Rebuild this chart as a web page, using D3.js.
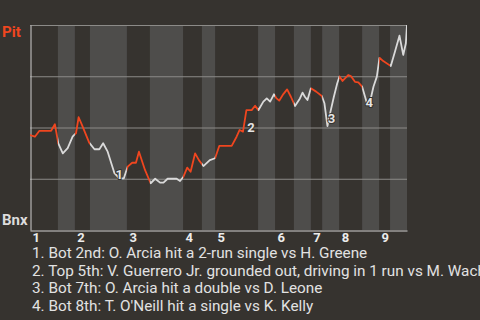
<html>
<head>
    <script type="text/javascript" src="https://cdnjs.cloudflare.com/ajax/libs/d3/7.8.5/d3.min.js"></script>
    <style>
        body { margin: 0; background: #36332f; }
        svg { display: block; font-family: Roboto, "Noto Sans", sans-serif; }
    </style>
</head>
<body>
<script type="text/javascript">

    // game progress (0-100) and Pittsburgh win probability after each play
    var progress = [0, 1.3, 2.5, 5.6, 6.6, 7.5, 8.7, 10.0, 11.3, 12.2, 12.9, 13.8, 15.7, 17.1, 18.4, 19.4, 20.6, 22.4, 23.7, 24.9,
        25.9, 27.1, 28.1, 28.9, 30.5, 32.0, 33.2, 34.5, 35.4, 36.5, 38.9, 39.8, 40.7, 41.7, 42.6, 43.8, 44.8, 46.0, 47.7, 49.1,
        50.2, 53.5, 54.8, 55.6, 56.5, 57.4, 58.8, 59.7, 60.6, 61.9, 62.8, 63.7, 64.7, 65.4, 66.1, 67.2, 68.2, 69.2, 70.3, 71.6,
        72.3, 72.9, 73.6, 74.5, 75.9, 77.4, 78.1, 78.9, 79.6, 80.6, 81.5, 82.1, 82.9, 84.4, 85.1, 86.2, 87.1, 88.1, 89.3, 90.0,
        91.1, 92.0, 92.7, 93.7, 95.7, 96.8, 98.0, 99.0, 99.7, 100];
    var winProb = [0.463, 0.455, 0.484, 0.484, 0.516, 0.423, 0.374, 0.399, 0.455, 0.472, 0.550, 0.512, 0.426, 0.394, 0.394, 0.423, 0.382, 0.277, 0.252, 0.252,
        0.309, 0.328, 0.328, 0.382, 0.293, 0.228, 0.250, 0.231, 0.231, 0.250, 0.250, 0.239, 0.260, 0.304, 0.284, 0.374, 0.341, 0.312, 0.341, 0.350,
        0.410, 0.410, 0.455, 0.488, 0.480, 0.585, 0.585, 0.606, 0.585, 0.626, 0.642, 0.626, 0.662, 0.642, 0.631, 0.663, 0.686, 0.650, 0.605, 0.642,
        0.670, 0.650, 0.634, 0.691, 0.675, 0.654, 0.618, 0.507, 0.569, 0.650, 0.716, 0.749, 0.727, 0.756, 0.751, 0.723, 0.720, 0.699, 0.623, 0.610,
        0.699, 0.748, 0.840, 0.824, 0.800, 0.870, 0.948, 0.854, 0.911, 1.0];

    // where each half inning starts (top 1st, bot 1st, top 2nd ...), last value = end of game
    var halfStarts = [0, 7.4, 11.9, 15.9, 25.7, 31.8, 40.6, 45.6, 49.1, 60.5, 65.0, 70.0, 74.5, 77.5, 82.0, 88.1, 92.6, 95.5, 100];
    var innings = ["1", "2", "3", "4", "5", "6", "7", "8", "9"];
    var teams = ["Pit", "Bnx"];
    var gridValues = [0.25, 0.5, 0.75, 1];

    // key plays: index into the play arrays + description
    var keyPlays = [18, 44, 67, 79];
    var keyTexts = [
        "1. Bot 2nd: O. Arcia hit a 2-run single vs H. Greene",
        "2. Top 5th: V. Guerrero Jr. grounded out, driving in 1 run vs M. Wacha",
        "3. Bot 7th: O. Arcia hit a double vs D. Leone",
        "4. Bot 8th: T. O'Neill hit a single vs K. Kelly"
    ];

    var data = progress.map(function (p, i) { return {x: p, wp: winProb[i]}; });

    var margin = {top: 25, right: 73, bottom: 90, left: 30},
        width = 480 - margin.left - margin.right,
        height = 320 - margin.top - margin.bottom;

    var svg = d3.select("body").append("svg").attr("width", 480).attr("height", 320);
    var g = svg.append("g").attr("transform", "translate(" + margin.left + "," + margin.top + ")");

    var x = d3.scaleLinear().domain([0, 100]).range([0, width]);
    var y = d3.scaleLinear().domain([0, 1]).range([height, 0]);

    var halves = d3.pairs(halfStarts).map(function (p, i) { return {x0: p[0], x1: p[1], top: i % 2 === 0}; });

    // bottom half innings get the lighter band
    g.selectAll("rect.band")
        .data(halves.filter(function (d) { return !d.top; }))
        .enter().append("rect")
        .attr("class", "band")
        .attr("x", function (d) { return x(d.x0); })
        .attr("width", function (d) { return x(d.x1) - x(d.x0); })
        .attr("y", 0)
        .attr("height", height)
        .attr("fill", "#4e4d4b");

    g.selectAll("line.grid")
        .data(gridValues)
        .enter().append("line")
        .attr("class", "grid")
        .attr("x1", 0).attr("x2", width)
        .attr("y1", function (d) { return y(d) + 0.5; })
        .attr("y2", function (d) { return y(d) + 0.5; })
        .attr("stroke", "#8c8b88")
        .attr("stroke-width", 1);

    // axes
    var yAxis = d3.axisLeft(y).tickValues([]).tickSizeOuter(0);
    g.append("g").attr("transform", "translate(0.5,0)").call(yAxis)
        .select(".domain").attr("stroke", "#cfcfcf");

    var xAxis = d3.axisBottom(x)
        .tickValues(halfStarts.filter(function (d, i) { return i % 2 === 0 && i < halfStarts.length - 1; }))
        .tickFormat(function (d, i) { return innings[i]; })
        .tickSize(0)
        .tickPadding(2);
    var xg = g.append("g").attr("transform", "translate(0," + (height + 0.5) + ")").call(xAxis);
    xg.select(".domain").attr("stroke", "#cfcfcf");
    xg.selectAll("text")
        .attr("text-anchor", "start")
        .attr("dx", 2)
        .attr("fill", "#ececec")
        .attr("font-size", 13)
        .attr("font-weight", "bold")
        .attr("font-family", "Roboto, sans-serif");

    // line colour follows the batting team: clip one copy per half type
    var defs = svg.append("defs");
    ["top", "bot"].forEach(function (k) {
        defs.append("clipPath").attr("id", "clip-" + k)
            .selectAll("rect")
            .data(halves.filter(function (d) { return d.top === (k === "top"); }))
            .enter().append("rect")
            .attr("x", function (d) { return x(d.x0); })
            .attr("width", function (d) { return x(d.x1) - x(d.x0); })
            .attr("y", -6)
            .attr("height", height + 12);
    });

    var line = d3.line()
        .x(function (d) { return x(d.x); })
        .y(function (d) { return y(d.wp); });

    g.append("path").datum(data)
        .attr("d", line)
        .attr("fill", "none")
        .attr("stroke", "#f0461f")
        .attr("stroke-width", 1.8)
        .attr("stroke-linejoin", "round")
        .attr("clip-path", "url(#clip-top)");

    g.append("path").datum(data)
        .attr("d", line)
        .attr("fill", "none")
        .attr("stroke", "#dadada")
        .attr("stroke-width", 1.8)
        .attr("stroke-linejoin", "round")
        .attr("clip-path", "url(#clip-bot)");

    // numbered markers on the key plays
    var nudge = [[0, 1], [8, 0.5], [4, -3], [0, 2]];
    g.selectAll("text.key")
        .data(keyPlays)
        .enter().append("text")
        .attr("class", "key")
        .attr("x", function (d, i) { return x(data[d].x) + nudge[i][0]; })
        .attr("y", function (d, i) { return y(data[d].wp) + nudge[i][1]; })
        .attr("text-anchor", "middle")
        .attr("font-size", 13)
        .attr("font-weight", "bold")
        .attr("fill", "#e4e4e4")
        .attr("stroke", "#36332f")
        .attr("stroke-width", 2)
        .attr("paint-order", "stroke")
        .text(function (d, i) { return i + 1; });

    // team labels
    svg.append("text")
        .attr("x", 2).attr("y", margin.top + 11.5)
        .attr("font-size", 15).attr("font-weight", "bold")
        .attr("fill", "#f0461f")
        .text(teams[0]);
    svg.append("text")
        .attr("x", 2).attr("y", margin.top + height - 5)
        .attr("font-size", 15).attr("font-weight", "bold")
        .attr("fill", "#dcdcdc")
        .text(teams[1]);

    // descriptions (the long one runs off the right edge, as in the original)
    svg.selectAll("text.desc")
        .data(keyTexts)
        .enter().append("text")
        .attr("class", "desc")
        .attr("x", 32)
        .attr("y", function (d, i) { return 258 + i * 17.5; })
        .attr("font-size", 15.3)
        .attr("fill", "#e2e2e2")
        .text(function (d) { return d; });

</script>
</body>
</html>
